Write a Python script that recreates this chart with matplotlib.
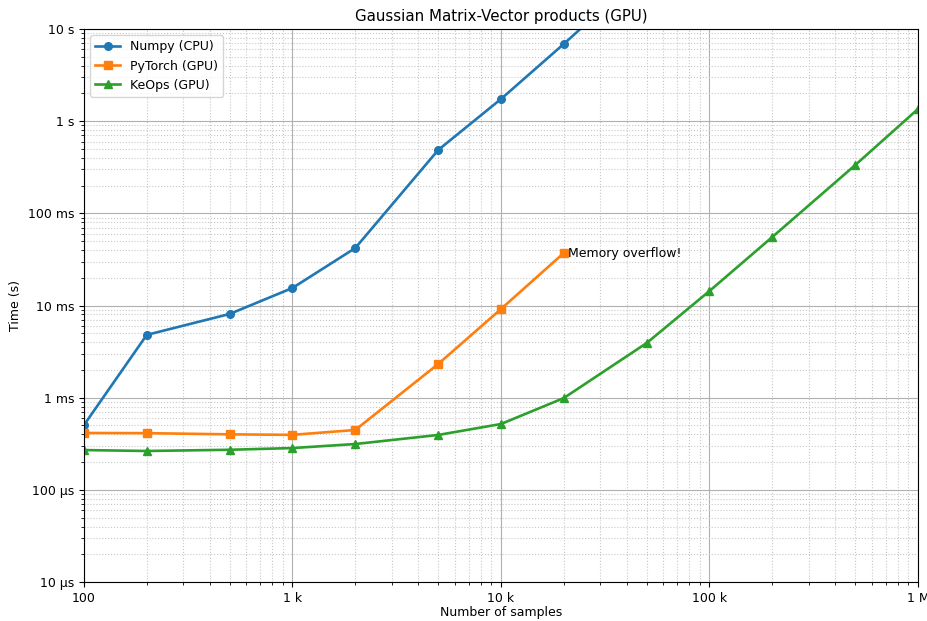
import matplotlib

matplotlib.use("Agg")

import matplotlib.pyplot as plt
from matplotlib.ticker import EngFormatter

plt.rcParams["font.size"] = 9

sizes_numpy = [100, 200, 500, 1000, 2000, 5000, 10000, 20000, 50000]
times_numpy = [5.05e-4, 4.8e-3, 8.1e-3, 0.0155, 0.042, 0.487, 1.74, 6.88, 45.0]

sizes_torch = [100, 200, 500, 1000, 2000, 5000, 10000, 20000]
times_torch = [4.14e-4, 4.12e-4, 4.0e-4, 3.95e-4, 4.46e-4, 2.32e-3, 9.16e-3, 0.0371]

sizes_keops = [100, 200, 500, 1000, 2000, 5000, 10000, 20000, 50000, 100000, 200000, 500000, 1000000]
times_keops = [2.70e-4, 2.64e-4, 2.72e-4, 2.84e-4, 3.14e-4, 3.94e-4, 5.18e-4, 9.9e-4,
               3.92e-3, 0.01437, 0.0553, 0.334, 1.355]

fig = plt.figure(figsize=(9.28, 6.21), dpi=100)
ax = fig.add_axes([84 / 928, 1 - 582 / 621, (918 - 84) / 928, (582 - 29) / 621])

ax.plot(sizes_numpy, times_numpy, marker="o", markersize=5.5, linewidth=1.9, label="Numpy (CPU)")
ax.plot(sizes_torch, times_torch, marker="s", markersize=5.5, linewidth=1.9, label="PyTorch (GPU)")
ax.plot(sizes_keops, times_keops, marker="^", markersize=5.5, linewidth=1.9, label="KeOps (GPU)")
ax.text(sizes_torch[-1] * 1.05, times_torch[-1], "Memory overflow!", va="center", ha="left")

ax.set_xscale("log")
ax.set_yscale("log")
ax.set_xlim(100, 1e6)
ax.set_ylim(1e-5, 10)
ax.xaxis.set_major_formatter(EngFormatter())
ax.yaxis.set_major_formatter(EngFormatter(unit="s"))
ax.grid(True, which="major", linestyle="-", color="#b0b0b0")
ax.grid(True, which="minor", linestyle="dotted", color="#c8c8c8")

ax.set_title("Gaussian Matrix-Vector products (GPU)")
ax.set_xlabel("Number of samples", labelpad=1)
ax.set_ylabel("Time (s)")
ax.legend(loc="upper left")

fig.savefig("out.png", dpi=100)
plt.close(fig)
